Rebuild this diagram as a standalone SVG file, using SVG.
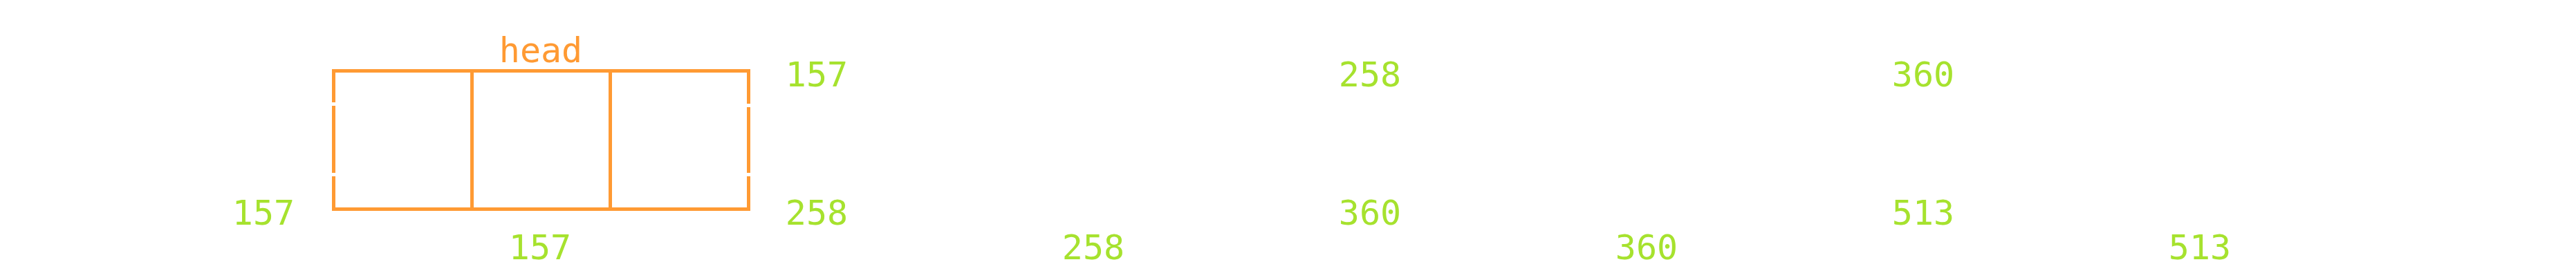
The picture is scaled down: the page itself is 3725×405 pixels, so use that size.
<svg xmlns="http://www.w3.org/2000/svg" width="3725" height="405" viewBox="0 0 3725 405">
  <style>
    .edge { stroke: #FF9A33; stroke-width: 5; fill: none; }
    .gap { fill: #FFFFFF; }
    .num { font-family: "DejaVu Sans Mono", "Liberation Mono", monospace; font-size: 50px; fill: #A6E22E; text-anchor: middle; }
    .head { font-family: "DejaVu Sans Mono", "Liberation Mono", monospace; font-size: 50px; fill: #FF9A33; text-anchor: middle; }
  </style>
  <rect width="3725" height="405" fill="#FFFFFF"/>
  <g id="array">
    <rect class="edge" x="482.5" y="102.5" width="600" height="200"/>
    <line class="edge" x1="682.5" y1="102.5" x2="682.5" y2="302.5"/>
    <line class="edge" x1="882.5" y1="102.5" x2="882.5" y2="302.5"/>
    <rect class="gap" x="478" y="148" width="9" height="5"/>
    <rect class="gap" x="478" y="250" width="9" height="5"/>
    <rect class="gap" x="1078" y="150" width="9" height="5"/>
    <rect class="gap" x="1078" y="250" width="9" height="5"/>
  </g>
  <g id="head-label">
    <text class="head" x="782" y="90">head</text>
  </g>
  <g id="connectors"></g>
  <g id="labels">
    <text class="num" x="381" y="325">157</text>
    <text class="num" x="781" y="375">157</text>
    <text class="num" x="1181" y="125">157</text>
    <text class="num" x="1181" y="325">258</text>
    <text class="num" x="1581" y="375">258</text>
    <text class="num" x="1981" y="125">258</text>
    <text class="num" x="1981" y="325">360</text>
    <text class="num" x="2381" y="375">360</text>
    <text class="num" x="2781" y="125">360</text>
    <text class="num" x="2781" y="325">513</text>
    <text class="num" x="3181" y="375">513</text>
  </g>
</svg>
